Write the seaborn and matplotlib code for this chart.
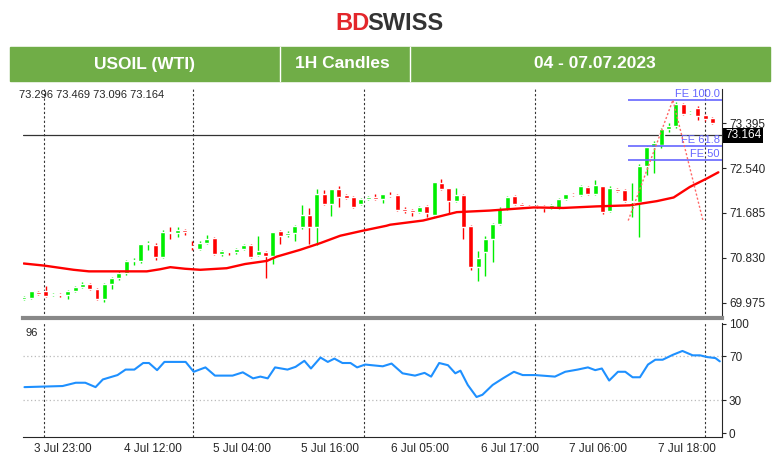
import numpy as np
import pandas as pd
import seaborn as sns
from matplotlib import pyplot as plt
from matplotlib.patches import Rectangle

# 1H candles, USOIL (WTI)
OPEN = [70.05, 70.06, 70.17, 70.20, 70.12, 70.14, 70.11, 70.20, 70.28, 70.32,
        70.23, 70.04, 70.32, 70.44, 70.53, 70.76, 70.77, 71.09, 71.08, 70.85,
        71.32, 71.30, 71.35, 71.05, 71.00, 71.12, 71.21, 70.90, 70.95, 70.93,
        71.00, 71.08, 70.89, 70.93, 70.87, 71.34, 71.27, 71.30, 71.42, 71.65,
        71.41, 72.04, 71.85, 72.15, 72.02, 71.99, 71.86, 71.95, 71.99, 71.95,
        72.03, 72.03, 71.76, 71.74, 71.70, 71.81, 71.65, 72.25, 72.16, 71.92,
        72.02, 71.44, 70.65, 70.93, 71.19, 71.48, 71.76, 72.00, 71.86, 71.82,
        71.82, 71.81, 71.78, 71.78, 71.95, 72.04, 72.02, 72.18, 72.05, 72.19,
        71.73, 72.15, 72.13, 71.89, 71.89, 72.59, 72.94, 72.98, 73.29, 73.34,
        73.77, 73.59, 73.69, 73.55, 73.50]
CLOSE = [70.08, 70.19, 70.14, 70.10, 70.14, 70.11, 70.20, 70.28, 70.33, 70.23,
         70.04, 70.32, 70.44, 70.53, 70.76, 70.78, 71.09, 71.10, 70.85, 71.32,
         71.30, 71.35, 71.32, 71.03, 71.12, 71.19, 70.90, 70.95, 70.93, 71.00,
         71.08, 70.85, 70.96, 70.87, 71.32, 71.25, 71.30, 71.43, 71.65, 71.41,
         72.04, 71.85, 72.15, 71.99, 71.97, 71.79, 71.95, 71.99, 71.95, 72.04,
         72.00, 71.74, 71.73, 71.70, 71.79, 71.68, 72.27, 72.15, 71.92, 72.02,
         71.41, 70.65, 70.82, 71.19, 71.48, 71.76, 71.99, 71.85, 71.81, 71.81,
         71.79, 71.78, 71.83, 71.95, 72.04, 72.02, 72.19, 72.05, 72.21, 71.70,
         72.17, 72.11, 71.91, 71.92, 72.59, 72.94, 73.01, 73.29, 73.34, 73.77,
         73.57, 73.61, 73.53, 73.48, 73.40]
HIGH = [70.10, 70.20, 70.19, 70.30, 70.15, 70.16, 70.22, 70.30, 70.36, 70.34,
        70.25, 70.35, 70.46, 70.58, 70.78, 70.82, 71.10, 71.15, 71.12, 71.35,
        71.41, 71.41, 71.37, 71.14, 71.14, 71.27, 71.22, 70.97, 70.96, 71.02,
        71.10, 71.09, 71.24, 70.95, 71.33, 71.35, 71.34, 71.45, 71.83, 71.77,
        72.14, 72.12, 72.15, 72.20, 72.04, 72.00, 71.97, 72.00, 72.04, 72.05,
        72.08, 72.05, 71.79, 71.76, 71.82, 71.83, 72.27, 72.33, 72.17, 72.17,
        72.04, 71.45, 70.95, 71.25, 71.50, 71.80, 72.00, 72.02, 71.88, 71.84,
        71.84, 71.84, 71.85, 71.97, 72.05, 72.06, 72.21, 72.20, 72.31, 72.20,
        72.19, 72.17, 72.15, 72.25, 72.62, 72.97, 73.06, 73.31, 73.40, 73.80,
        73.79, 73.63, 73.72, 73.57, 73.52]
LOW = [70.02, 70.04, 70.12, 70.08, 70.10, 70.08, 70.05, 70.18, 70.26, 70.21,
       70.02, 69.98, 70.24, 70.40, 70.50, 70.70, 70.73, 70.98, 70.78, 70.83,
       71.18, 71.22, 71.26, 70.98, 70.98, 71.10, 70.88, 70.86, 70.88, 70.91,
       70.98, 70.83, 70.87, 70.45, 70.72, 71.10, 71.22, 71.14, 71.38, 71.10,
       71.08, 71.83, 71.62, 71.80, 71.95, 71.77, 71.84, 71.93, 71.93, 71.88,
       71.98, 71.72, 71.68, 71.63, 71.68, 71.60, 71.63, 72.12, 71.67, 71.90,
       71.18, 70.60, 70.39, 70.48, 70.75, 71.45, 71.74, 71.83, 71.79, 71.79,
       71.77, 71.70, 71.76, 71.76, 71.93, 72.00, 72.00, 72.03, 72.03, 71.67,
       71.70, 72.09, 71.89, 71.60, 71.22, 72.40, 72.44, 72.92, 73.22, 73.30,
       73.55, 73.57, 73.45, 73.43, 73.38]

# moving average (red line), sampled at candle positions
MA_X = [0, 2.8, 6.8, 8.9, 16.8, 18.6, 20, 22, 24.1, 27.7, 30.2, 33.2, 34.5, 37.7,
        40.5, 43.2, 46.4, 49.5, 50, 54.5, 59.1, 63.6, 69.6, 73.6, 78.2, 82.7,
        86.4, 88.7, 90.9, 93.2, 94.8]
MA_Y = [70.72, 70.68, 70.60, 70.57, 70.57, 70.61, 70.65, 70.62, 70.60, 70.63,
        70.71, 70.77, 70.85, 70.98, 71.11, 71.25, 71.35, 71.44, 71.46, 71.54,
        71.70, 71.73, 71.79, 71.78, 71.81, 71.83, 71.91, 71.98, 72.18, 72.34, 72.46]

# RSI panel
RSI_X = [0.1, 5.3, 7.1, 8.4, 9.8, 10.8, 12.8, 13.9, 15.1, 16.3, 17.1, 18.2, 19.2,
         22.1, 23.2, 24.8, 26.1, 28.5, 29.9, 31.3, 32.3, 33.3, 34.3, 36.0, 37.1,
         38.3, 39.2, 40.5, 41.5, 42.4, 43.5, 44.6, 45.5, 46.6, 49.0, 50.2, 51.7,
         53.4, 54.7, 55.6, 56.7, 57.9, 58.9, 59.6, 60.6, 61.8, 62.6, 64.0, 65.4,
         66.9, 68.1, 69.8, 72.5, 73.9, 75.6, 77.0, 78.0, 78.9, 79.9, 81.1, 82.1,
         83.1, 84.1, 85.2, 86.2, 87.2, 88.6, 89.9, 91.3, 92.3, 93.3, 94.4, 95.0]
RSI_Y = [42, 43, 46, 46, 42, 49, 53, 58, 58, 64, 64, 57.5, 65, 65, 56, 60, 52.5,
         52.5, 55.5, 50, 51.6, 50, 60, 58, 60.5, 66, 59, 69, 65, 68, 64, 64, 60,
         62.6, 61, 63.5, 54.6, 52.5, 55, 51.6, 64, 62, 54.6, 57, 44, 33, 35, 44,
         50, 56, 53, 53, 51.6, 56, 58, 60, 57.5, 59, 48, 56, 56, 51, 51, 62.6,
         67, 67, 71.5, 75, 71, 71, 69.4, 68.5, 65.5]

DATE_X = [5.4, 17.6, 29.8, 41.8, 54.1, 66.4, 78.4, 90.5]
DATE_LABELS = ['3 Jul 23:00', '4 Jul 12:00', '5 Jul 04:00', '5 Jul 16:00',
               '6 Jul 05:00', '6 Jul 17:00', '7 Jul 06:00', '7 Jul 18:00']
VGRID_X = [2.8, 23.1, 46.5, 69.8, 93.0]
PRICE_TICKS = [69.975, 70.830, 71.685, 72.540, 73.395]
LAST_PRICE = 73.164
FE_LEVELS = {'FE 100.0': 73.84, 'FE 61.8': 72.97, 'FE 50': 72.69}
ZIGZAG_X = [82.5, 88.6, 92.7]
ZIGZAG_Y = [71.54, 73.84, 71.54]

sns.set_style('white')
plt.rcParams['font.family'] = ['Liberation Sans', 'DejaVu Sans']

fig = plt.figure(figsize=(7.8, 4.72), dpi=100)
W, H = 780, 472


def fx(x):
    return x / W


def fy(y):
    return 1 - y / H


# header
fig.text(fx(335), fy(23), 'BD', color='#e3262b', fontsize=17, fontweight='bold',
         ha='left', va='center')
fig.text(fx(367), fy(23), 'SWISS', color='#333333', fontsize=17, fontweight='bold',
         ha='left', va='center')
fig.patches.append(Rectangle((fx(10), fy(81)), fx(760), 34 / H, color='#70ad47',
                             transform=fig.transFigure, zorder=0))
for xd in [280, 410]:
    fig.add_artist(plt.Line2D([fx(xd), fx(xd)], [fy(81), fy(47)], color='white', lw=1))
for xt, txt in [(145, 'USOIL (WTI)'), (342, '1H Candles'), (595, '04 - 07.07.2023')]:
    fig.text(fx(xt), fy(64), txt, color='white', fontsize=12.5, fontweight='bold',
             ha='center', va='center')

# price panel
ax = fig.add_axes([fx(23), fy(318), fx(699), 229 / H])
idx = np.arange(len(CLOSE))
o, c, h, l = map(np.array, (OPEN, CLOSE, HIGH, LOW))
cols = np.where(c >= o, '#00ee00', '#ff0000')
ax.vlines(idx, l, h, colors=cols, lw=1, zorder=3)
ax.bar(idx, np.maximum(np.abs(c - o), 0.012), bottom=np.minimum(o, c), width=0.68,
       color=cols, zorder=4)
sns.lineplot(x=MA_X, y=MA_Y, ax=ax, color='#ff0000', lw=1.7, zorder=5)
for xv in VGRID_X:
    ax.axvline(xv, color='#333333', ls=(0, (2, 2)), lw=0.8, zorder=1)
ax.axhline(LAST_PRICE, color='#333333', lw=0.9, zorder=2)
for name, lvl in FE_LEVELS.items():
    ax.hlines(lvl, 82.5, 95.3, color='#6666ff', lw=1.2, zorder=6)
    ax.text(95.0, lvl + 0.02, name, color='#6666ff', fontsize=8, ha='right', va='bottom')
ax.plot(ZIGZAG_X, ZIGZAG_Y, color='#ff6666', ls=(0, (1.5, 1.5)), lw=1, zorder=6)
ax.set_xlim(-0.1, 95.3)
ax.set_ylim(69.68, 74.05)
ax.yaxis.tick_right()
ax.set_yticks(PRICE_TICKS)
ax.set_yticklabels([f'{t:.3f}' for t in PRICE_TICKS])
ax.tick_params(axis='y', labelsize=8.5, length=3, pad=2, right=True)
ax.set_xticks([])
ax.text(95.7, LAST_PRICE, f'{LAST_PRICE:.3f}', color='white', fontsize=8.5,
        va='center', ha='left', bbox=dict(facecolor='black', pad=1.2, lw=0),
        clip_on=False)
ax.text(-0.6, 73.93, '73.296 73.469 73.096 73.164', fontsize=8, va='center', ha='left')
for s in ['top', 'left']:
    ax.spines[s].set_visible(False)
ax.spines['bottom'].set_color('#888888')
ax.spines['bottom'].set_linewidth(3)

# RSI panel
ax2 = fig.add_axes([fx(23), fy(437), fx(699), 114 / H])
for lvl in [70, 30]:
    ax2.axhline(lvl, color='#bbbbbb', ls=(0, (1, 2)), lw=0.9)
for xv in VGRID_X:
    ax2.axvline(xv, color='#333333', ls=(0, (2, 2)), lw=0.8)
sns.lineplot(x=RSI_X, y=RSI_Y, ax=ax2, color='#1e90ff', lw=1.5)
ax2.set_xlim(-0.1, 95.3)
ax2.set_ylim(-3.5, 100.5)
ax2.yaxis.tick_right()
ax2.set_yticks([0, 30, 70, 100])
ax2.tick_params(axis='y', labelsize=8.5, length=3, pad=2, right=True)
ax2.set_xticks(DATE_X)
ax2.set_xticklabels(DATE_LABELS)
ax2.tick_params(axis='x', labelsize=8.5, length=0, pad=4)
ax2.text(0.3, 96, '96', fontsize=8, va='top')
for s in ['top', 'left']:
    ax2.spines[s].set_visible(False)

fig.savefig('out.png', dpi=100)
